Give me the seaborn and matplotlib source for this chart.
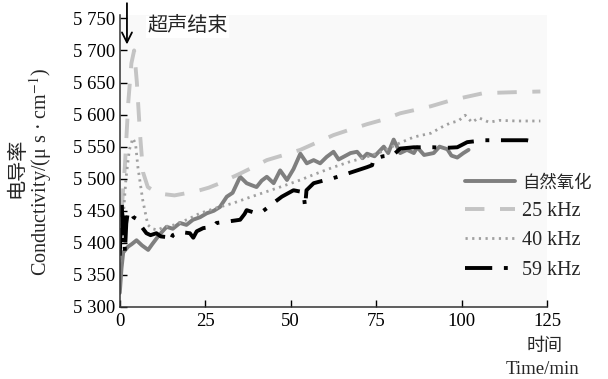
import matplotlib
matplotlib.use("Agg")
import matplotlib.pyplot as plt
import seaborn as sns

# ---------------------------------------------------
# Conductivity vs time under ultrasound
# ---------------------------------------------------

nat_t = [0, 0.5, 1, 2.4, 3.5, 4.9, 6.5, 8.3, 9.5, 11.2, 12.5, 13.7, 15.5, 17.6, 19.5,
         21.4, 23.5, 25.4, 27.5, 29.3, 31.3, 33, 35.2, 37.1, 38.5, 40, 41.5, 43, 45,
         46.9, 48.9, 50.8, 52.8, 54.7, 56.7, 58.6, 60.5, 62.5, 64, 65.4, 67.5, 69.4,
         71, 72.3, 74.5, 77.2, 78.5, 80.1, 82, 84, 86, 87, 89, 91.8, 93.5, 95.8, 97,
         98.7, 100.5, 102]
nat_v = [5322, 5360, 5385, 5394, 5398, 5404, 5396, 5389, 5398, 5410, 5418, 5425, 5422,
         5431, 5428, 5436, 5440, 5446, 5450, 5456, 5472, 5478, 5503, 5493, 5490, 5487,
         5497, 5503, 5493, 5513, 5498, 5515, 5539, 5524, 5529, 5524, 5534, 5542, 5530,
         5534, 5540, 5542, 5532, 5539, 5535, 5550, 5540, 5561, 5540, 5545, 5540, 5549,
         5537, 5540, 5550, 5546, 5536, 5533, 5540, 5545]

k25_t = [0, 0.8, 1.5, 2.5, 3.4, 4.2, 5, 5.9, 6.8, 8.2, 11.2, 16, 21, 23.4, 26, 29.3, 32,
         35.2, 39, 43, 48, 52.8, 57, 62.5, 67, 72.3, 77, 82, 87, 91, 96.7, 100, 106, 110,
         116, 123]
k25_v = [5400, 5470, 5520, 5620, 5680, 5700, 5650, 5571, 5510, 5487, 5477, 5474, 5479,
         5482, 5486, 5493, 5500, 5508, 5518, 5529, 5537, 5545, 5555, 5568, 5576, 5585,
         5592, 5602, 5608, 5613, 5622, 5626, 5633, 5634, 5635, 5636]

k40_t = [0, 1, 1.8, 2.8, 3.8, 4.6, 5.3, 6.7, 8.2, 9.5, 11.1, 13, 16, 20, 23.4, 28, 33.2,
         38, 43, 48, 52.8, 57, 62.5, 67, 72.3, 77, 82, 86, 91, 94, 96.7, 99, 101, 103,
         105, 108, 111, 116, 123]
k40_v = [5370, 5440, 5500, 5545, 5563, 5555, 5518, 5467, 5428, 5422, 5420, 5425, 5428,
         5437, 5446, 5454, 5462, 5471, 5480, 5489, 5498, 5507, 5518, 5526, 5534, 5543,
         5556, 5565, 5571, 5580, 5587, 5590, 5599, 5588, 5595, 5588, 5591, 5590, 5590]

k59_t = [0, 0.3, 0.6, 0.9, 1.2, 1.5, 1.9, 2.3, 3, 4, 5.3, 6.4, 7.8, 9, 10.7, 12, 13.7,
         14.6, 15.5, 17.6, 20.5, 21.5, 22.5, 24.4, 27.3, 28.3, 31.3, 35.2, 36.5, 37.1,
         40, 42, 43, 44.9, 47.4, 50.8, 53.7, 54.2, 54.6, 56.7, 59.5, 62.5, 65.5, 68.3,
         72.3, 73.8, 74.2, 77, 80, 82, 86, 91.8, 95, 98.7, 101.6, 106.5, 113, 119, 122]
k59_v = [5380, 5430, 5462, 5400, 5440, 5385, 5430, 5446, 5450, 5440, 5436, 5425, 5415,
         5412, 5415, 5410, 5409, 5402, 5412, 5417, 5415, 5408, 5418, 5423, 5425, 5431,
         5433, 5436, 5445, 5451, 5446, 5450, 5454, 5462, 5472, 5482, 5479, 5456, 5482,
         5493, 5497, 5501, 5506, 5511, 5518, 5521, 5531, 5535, 5537, 5547, 5549, 5549,
         5548, 5549, 5557, 5560, 5560, 5560, 5557]

labels = ["自然氧化", "25 kHz", "40 kHz", "59 kHz"]
y_ticks = [5300, 5350, 5400, 5450, 5500, 5550, 5600, 5650, 5700, 5750]
x_ticks = [0, 25, 50, 75, 100, 125]

sns.set_style("ticks")
plt.rcParams["font.family"] = ["Liberation Serif", "Noto Sans CJK SC"]
plt.rcParams["mathtext.fontset"] = "stix"

fig = plt.figure(figsize=(6.08, 3.79), dpi=100)
ax = fig.add_axes([0.197, 0.19, 0.703, 0.77])
ax.set_facecolor("#f9f9f9")

sns.lineplot(x=nat_t, y=nat_v, ax=ax, color="#7f7f7f", linewidth=2.8,
             estimator=None, sort=False, label=labels[0])
sns.lineplot(x=k25_t, y=k25_v, ax=ax, color="#c4c4c4", linewidth=2.8,
             linestyle=(0, (5, 4)), estimator=None, sort=False, label=labels[1])
sns.lineplot(x=k40_t, y=k40_v, ax=ax, color="#a0a0a0", linewidth=2.0,
             linestyle=(0, (0.8, 1.6)), estimator=None, sort=False, label=labels[2])
sns.lineplot(x=k59_t, y=k59_v, ax=ax, color="black", linewidth=2.8,
             linestyle=(0, (7, 3, 1, 3)), estimator=None, sort=False, label=labels[3])

ax.set_xlim(0, 125)
ax.set_ylim(5300, 5755)
ax.set_xticks(x_ticks)
ax.set_yticks(y_ticks)
ax.set_yticklabels([f"{v // 1000} {v % 1000:03d}" for v in y_ticks])
ax.tick_params(direction="in", length=5, width=1, labelsize=13.5, colors="black")
ax.tick_params(axis="x", pad=4)
sns.despine(ax=ax)
for s in ["left", "bottom"]:
    ax.spines[s].set_color("#333333")
    ax.spines[s].set_linewidth(1.1)
ax.set_xlabel("")
ax.set_ylabel("")

# legend at right
leg = ax.legend(loc="upper left", bbox_to_anchor=(465 / 608, 1 - 174 / 379),
                bbox_transform=fig.transFigure, frameon=False, fontsize=14.5,
                handlelength=2.5, handletextpad=0.35, labelspacing=0.5,
                borderpad=0, borderaxespad=0)
leg.get_texts()[0].set_fontsize(12.5)

# annotation
ax.annotate("", xy=(2.1, 5705), xytext=(2.1, 5778), annotation_clip=False,
            arrowprops=dict(arrowstyle="->", color="black", lw=1.3,
                            mutation_scale=18))
ax.text(8, 5737, "超声结束", fontsize=14.5, va="center", ha="left",
        bbox=dict(facecolor="white", edgecolor="none", pad=1))

# axis titles
fig.text(18 / 608, 1 - 168 / 379, "电导率", rotation=90, fontsize=14.5,
         ha="center", va="center")
fig.text(41 / 608, 1 - 172 / 379, "Conductivity/(μ s · cm$^{-1}$)", rotation=90,
         fontsize=14.5, ha="center", va="center")
fig.text(545 / 608, 1 - 346 / 379, "时间", fontsize=13, ha="center", va="center")
fig.text(543 / 608, 1 - 369 / 379, "Time/min", fontsize=13.5, ha="center", va="center")

fig.savefig("out.png", dpi=100)
